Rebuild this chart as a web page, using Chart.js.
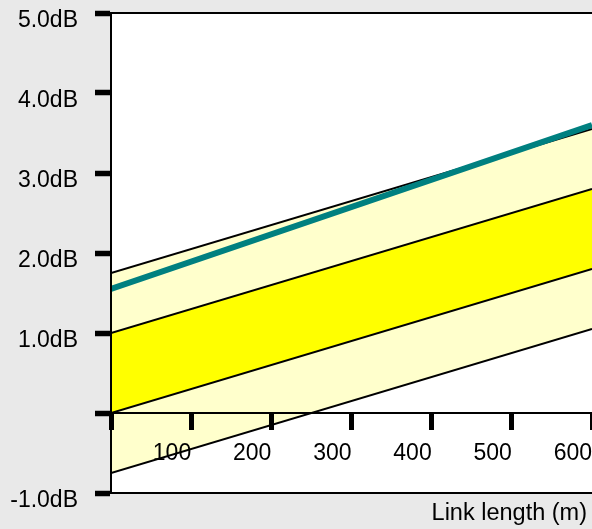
<!DOCTYPE html>
<html><head><meta charset="utf-8">
<script src="https://cdn.jsdelivr.net/npm/chart.js@4"></script>
<style>html,body{margin:0;padding:0;background:#e9e9e9;} canvas{display:block;}</style>
</head><body>
<canvas id="c" width="592" height="529"></canvas>
<script>
const lengths = [0, 600];
const measured = [1.55, 3.6];
const upperLimit = [1.75, 3.55];
const nominalHigh = [1.0, 2.8];
const nominalLow = [0.0, 1.8];
const lowerLimit = [-0.75, 1.05];
const xTicks = [0, 100, 200, 300, 400, 500, 600];
const xTickLabels = ['', '100', '200', '300', '400', '500', '600'];
const yTicks = [-1, 0, 1, 2, 3, 4, 5];
const yTickLabels = ['-1.0dB', '', '1.0dB', '2.0dB', '3.0dB', '4.0dB', '5.0dB'];
const xTitle = 'Link length (m)';

const pts = vals => lengths.map((x, i) => ({x: x, y: vals[i]}));

Chart.defaults.font.family = '"Liberation Sans", Arial, sans-serif';
Chart.defaults.font.size = 23;
Chart.defaults.color = '#000';

const frame = {
  id: 'frame',
  afterLayout(chart) { chart.scales.x2.right -= 5; },
  beforeDraw(chart) {
    const {ctx, chartArea: a} = chart;
    ctx.save();
    ctx.fillStyle = '#e9e9e9';
    ctx.fillRect(0, 0, chart.width, chart.height);
    ctx.fillStyle = '#ffffff';
    ctx.fillRect(a.left, a.top, a.right - a.left, a.bottom - a.top);
    ctx.restore();
  },
  afterDraw(chart) {
    const {ctx, chartArea: a} = chart;
    ctx.save();
    ctx.strokeStyle = '#000';
    ctx.lineWidth = 2;
    ctx.beginPath();
    ctx.moveTo(a.left - 2, a.top); ctx.lineTo(chart.width, a.top);
    ctx.moveTo(a.left - 2, a.bottom); ctx.lineTo(chart.width, a.bottom);
    ctx.stroke();
    ctx.restore();
  }
};

new Chart(document.getElementById('c'), {
  type: 'line',
  data: {
    datasets: [
      {data: pts(measured), borderColor: '#008080', borderWidth: 6, fill: false},
      {data: pts(nominalHigh), borderColor: '#000', borderWidth: 2, fill: '+1', backgroundColor: '#ffff00'},
      {data: pts(nominalLow), borderColor: '#000', borderWidth: 2, fill: false},
      {data: pts(upperLimit), borderColor: '#000', borderWidth: 2, fill: '+1', backgroundColor: '#ffffcc'},
      {data: pts(lowerLimit), borderColor: '#000', borderWidth: 2, fill: false}
    ]
  },
  options: {
    responsive: false,
    animation: false,
    layout: {padding: {top: 13, right: 0, bottom: 0, left: 0}},
    elements: {point: {radius: 0}, line: {tension: 0}},
    plugins: {
      legend: {display: false},
      tooltip: {enabled: false},
      filler: {drawTime: 'beforeDatasetsDraw'}
    },
    scales: {
      x: {
        type: 'linear',
        position: {y: 0},
        min: 0, max: 600,
        afterBuildTicks: s => { s.ticks = xTicks.map(v => ({value: v})); },
        ticks: {
          z: 1, align: 'end', padding: 11, maxRotation: 0, autoSkip: false,
          callback: v => { const i = xTicks.indexOf(v); return i >= 0 ? xTickLabels[i] : ''; }
        },
        grid: {z: 1, drawOnChartArea: false, tickLength: 16, tickWidth: 5, tickColor: '#000', color: '#000'},
        border: {z: 1, display: true, color: '#000', width: 2},
        afterFit: s => { s.height = 0; s.paddingLeft = 0; s.paddingRight = 0; }
      },
      x2: {
        type: 'linear',
        position: 'bottom',
        min: 0, max: 600,
        ticks: {display: false},
        grid: {display: false},
        border: {display: false},
        title: {display: true, text: xTitle, align: 'end', color: '#000', font: {size: 23.5}, padding: {top: 4, bottom: 1}},
        afterFit: s => { s.height = 36; s.paddingLeft = 0; s.paddingRight = 0; }
      },
      y: {
        type: 'linear',
        position: 'left',
        min: -1, max: 5,
        afterBuildTicks: s => { s.ticks = yTicks.map(v => ({value: v})); },
        ticks: {
          z: 1, padding: 17, labelOffset: 7.5, autoSkip: false,
          callback: v => { const i = yTicks.indexOf(v); return i >= 0 ? yTickLabels[i] : ''; }
        },
        grid: {z: 1, drawOnChartArea: false, tickLength: 16, tickWidth: 5.5, tickColor: '#000', color: '#000'},
        border: {z: 1, display: true, color: '#000', width: 2},
        afterFit: s => { s.width = 111; s.paddingTop = 0; s.paddingBottom = 0; }
      }
    }
  },
  plugins: [frame]
});
</script>
</body></html>
